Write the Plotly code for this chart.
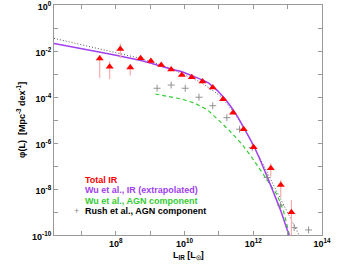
import numpy as np
import plotly.graph_objects as go

# ---- data (log10 values) ----
tri_logL   = [7.53, 7.82, 8.13, 8.42, 8.72, 9.02, 9.32, 9.61, 9.92, 10.21, 10.52, 10.82, 11.12, 11.41, 11.72, 12.01, 12.51, 12.80, 13.11]
tri_logphi = [-2.33, -2.68, -1.91, -2.72, -2.32, -2.43, -2.61, -2.80, -3.04, -3.14, -3.33, -3.59, -4.10, -4.68, -5.40, -6.19, -7.10, -7.83, -9.01]
tri_lo     = [-3.16, -3.22, -2.32, -3.07, -2.37, -2.48, -2.66, -2.85, -3.09, -3.19, -3.38, -3.64, -4.15, -4.73, -5.45, -6.24, -7.46, -8.38, -10.0]
tri_hi     = [-2.18, -2.46, -1.67, -2.58, -2.27, -2.38, -2.56, -2.75, -2.99, -3.09, -3.28, -3.54, -4.05, -4.63, -5.35, -6.14, -6.88, -7.61, -8.48]

rush_logL   = [9.20, 9.61, 10.02, 10.42, 10.82, 11.23, 11.60, 11.97, 12.40, 12.79, 13.19, 13.61]
rush_logphi = [-3.62, -3.48, -3.62, -4.01, -4.38, -4.90, -5.40, -6.20, -7.50, -8.70, -9.68, -9.78]

wu_ir_logL   = [6.2, 7.55, 8.56, 9.0, 9.53, 9.88, 10.21, 10.52, 10.68, 10.82, 10.97, 11.11, 11.26, 11.41, 11.56, 11.71, 11.86, 12.01, 12.20, 12.40, 12.58, 12.80, 13.02, 13.06]
wu_ir_logphi = [-1.67, -2.05, -2.36, -2.52, -2.75, -2.88, -3.07, -3.26, -3.38, -3.55, -3.74, -3.97, -4.24, -4.55, -4.90, -5.30, -5.70, -6.12, -6.74, -7.45, -8.12, -8.95, -9.93, -10.1]

wu_agn_logL   = [9.15, 9.88, 10.27, 10.66, 10.95, 11.30, 11.67, 11.96, 12.30, 12.69, 12.88, 13.03, 13.06]
wu_agn_logphi = [-3.87, -4.08, -4.25, -4.55, -4.95, -5.45, -6.05, -6.63, -7.38, -8.25, -8.95, -9.85, -10.05]

rush_fit_logL   = [6.2, 7.5, 8.71, 9.5, 10.46, 11.04, 11.43, 11.8, 12.15, 12.58, 12.97, 13.32, 13.35]
rush_fit_logphi = [-1.45, -1.90, -2.32, -2.70, -3.35, -3.95, -4.65, -5.55, -6.52, -7.80, -8.95, -9.93, -10.05]

x_tick_exp = [8, 10, 12, 14]
y_tick_exp = [-10, -8, -6, -4, -2, 0]

P = lambda a: 10 ** np.array(a, dtype=float)

font = "Liberation Sans, Arial, sans-serif"
fig = go.Figure()

fig.add_trace(go.Scatter(x=P(rush_fit_logL), y=P(rush_fit_logphi), mode="lines",
                         line=dict(color="#555555", width=1, dash="1px,2px"), showlegend=False))
fig.add_trace(go.Scatter(x=P(wu_agn_logL), y=P(wu_agn_logphi), mode="lines",
                         line=dict(color="#33cc33", width=1.2, dash="4px,3px"), showlegend=False))
fig.add_trace(go.Scatter(x=P(wu_ir_logL), y=P(wu_ir_logphi), mode="lines", line_shape="spline",
                         line=dict(color="#a040f0", width=1.5, smoothing=0.6), showlegend=False))
fig.add_trace(go.Scatter(x=P(rush_logL), y=P(rush_logphi), mode="markers",
                         marker=dict(symbol="cross-thin", size=5, line=dict(color="#888888", width=0.9)),
                         showlegend=False))
y = P(tri_logphi)
fig.add_trace(go.Scatter(x=P(tri_logL), y=y, mode="markers",
                         marker=dict(symbol="triangle-up", size=7, color="#ff0000"),
                         error_y=dict(type="data", symmetric=False,
                                      array=P(tri_hi) - y, arrayminus=y - P(tri_lo),
                                      color="#ffaaaa", thickness=1.2, width=0),
                         showlegend=False))

tickfont = dict(family=font, size=9, color="black")
fig.update_xaxes(type="log", range=[6.2, 14.0001], automargin=False, ticklabeloverflow="allow",
                 tickvals=P(x_tick_exp), ticktext=[f"<b>10<sup>{e}</sup></b>" for e in x_tick_exp],
                 ticks="inside", ticklen=4, tickcolor="#999999", mirror="ticks",
                 showline=True, linecolor="#999999", linewidth=1, showgrid=False, zeroline=False,
                 tickfont=tickfont,
                 minor=dict(tickvals=P(list(range(7, 14))), ticks="inside", ticklen=4, tickcolor="#999999", showgrid=False))
fig.update_yaxes(type="log", range=[-10.0001, 0.0001], automargin=False, ticklabeloverflow="allow",
                 ticklabelshift=2,
                 tickvals=P(y_tick_exp), ticktext=[f"<b>10<sup>{e}</sup></b>" for e in y_tick_exp],
                 ticks="inside", ticklen=4, tickcolor="#999999", mirror="ticks",
                 showline=True, linecolor="#999999", linewidth=1, showgrid=False, zeroline=False,
                 tickfont=tickfont,
                 minor=dict(tickvals=P(list(range(-9, 0))), ticks="inside", ticklen=4, tickcolor="#999999", showgrid=False))

ann = []
ann.append(dict(text="<b>φ(L)  [Mpc<sup>-3</sup> dex<sup>-1</sup>]</b>", xref="paper", yref="paper",
                x=-0.123, y=0.5, xanchor="center", yanchor="middle", textangle=-90, showarrow=False,
                font=dict(family=font, size=9, color="black")))
ann.append(dict(text="<b>L<sub>IR</sub> [L<sub>☉</sub>]</b>", xref="paper", yref="paper",
                x=0.5, y=-0.087, xanchor="center", yanchor="middle", showarrow=False,
                font=dict(family=font, size=9, color="black")))
leg = [("Total IR", "#ff0000"), ("Wu et al., IR (extrapolated)", "#a040f0"),
       ("Wu et al., AGN component", "#33cc33"), ("Rush et al., AGN component", "#000000")]
for i, (t, c) in enumerate(leg):
    ann.append(dict(text=f"<b>{t}</b>", xref="paper", yref="paper", x=0.107, y=0.239 - i * 0.045,
                    xanchor="left", yanchor="middle", showarrow=False, font=dict(family=font, size=9, color=c)))
ann.append(dict(text="+", xref="paper", yref="paper", x=0.085, y=0.239 - 3 * 0.045,
                xanchor="center", yanchor="middle", showarrow=False, font=dict(family=font, size=9, color="#888888")))

fig.update_layout(width=360, height=271, margin=dict(l=54, r=38, t=5, b=36, autoexpand=False),
                  paper_bgcolor="white", plot_bgcolor="white", annotations=ann,
                  font=dict(family=font, size=9))
fig.write_html("out.html", config={"displayModeBar": False},
               post_script="document.body.style.margin='0px';")
